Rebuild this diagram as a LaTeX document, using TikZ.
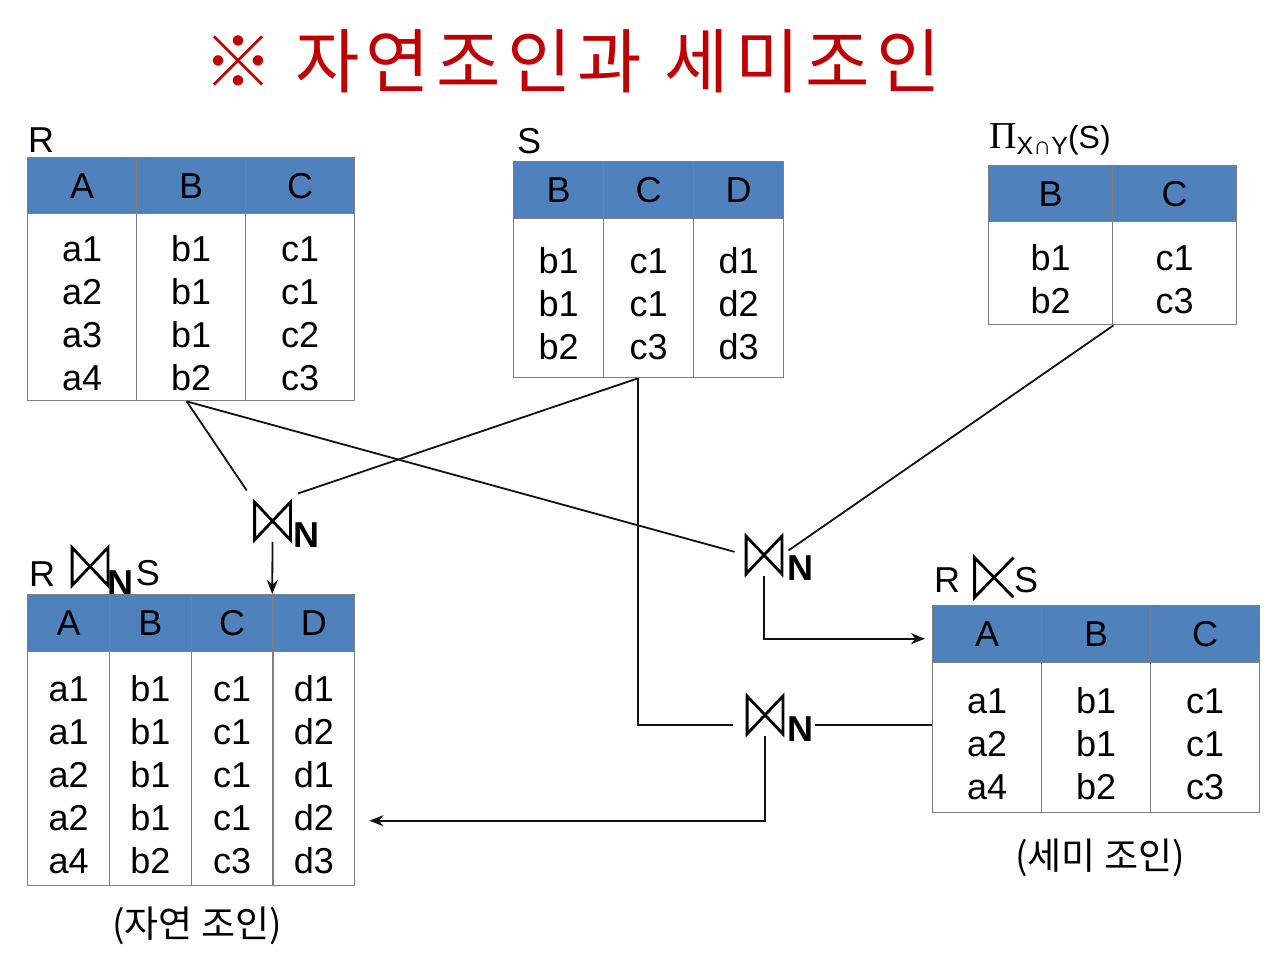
\documentclass[tikz,border=0pt]{standalone}
\usepackage{fontspec}
\setmainfont{Liberation Sans}
\newfontfamily\krfont{Noto Sans CJK KR}
\newfontfamily\krtitlefont[LetterSpace=9]{Noto Sans CJK KR}
\newfontfamily\pifont{Liberation Serif}
\usetikzlibrary{arrows.meta,positioning}
\definecolor{hdblue}{HTML}{4F81BD}
\definecolor{tblline}{HTML}{7F7F7F}
\definecolor{titlered}{HTML}{C00000}
\definecolor{ink}{HTML}{111111}

\newcommand\drawtie[1]{\draw[tie] (#1.north west) -- (#1.south east) -- (#1.north east) -- (#1.south west) -- cycle;}
\newcommand\drawsemi[1]{\draw[tie] (#1.north east) -- (#1.south west) -- (#1.north west) -- (#1.south east);}
\newcommand\cellstrut{\rule{0pt}{18.5pt}}

\begin{document}
\begin{tikzpicture}[
  x=0.5pt,
  y=-0.5pt,
  cell/.style={
    draw=tblline,line width=0.7pt,anchor=north west,inner sep=0pt,
    font=\fontsize{18}{21.5}\selectfont,text=black
  },
  head/.style={cell,fill=hdblue},
  body/.style={cell,fill=white,align=center},
  lbl/.style={inner sep=0pt,font=\fontsize{18}{20}\selectfont},
  nlabel/.style={inner sep=1pt,font=\fontsize{18}{20}\selectfont\bfseries},
  tiebox/.style={minimum width=17.5pt,minimum height=18.5pt,inner sep=0pt},
  tie/.style={draw=black,line width=1.4pt,line join=miter},
  link/.style={draw=ink,line width=0.9pt},
  arrow/.style={link,-{Stealth[length=7pt,width=5.5pt]}},
  caption/.style={font=\krfont\fontsize{18.5}{20}\selectfont},
  title/.style={font=\krtitlefont\fontsize{35}{36}\selectfont,text=titlered}
]
  \useasboundingbox[fill=white] (0,0) rectangle (1280,965);

  \node[title] (title) at (572,61) {※ 자연조인과 세미조인};

  % R
  \begin{scope}[head/.append style={minimum width=54.5pt,minimum height=28pt},
                body/.append style={minimum width=54.5pt,minimum height=93.5pt}]
    \node[lbl] (r-name) at (41,140) {R};
    \node[head] (r-ha) at (27,157) {A};
    \node[head] (r-hb) at (136,157) {B};
    \node[head] (r-hc) at (245,157) {C};
    \node[body] (r-a) at (27,213) {\cellstrut a1\\a2\\a3\\a4};
    \node[body] (r-b) at (136,213) {\cellstrut b1\\b1\\b1\\b2};
    \node[body] (r-c) at (245,213) {\cellstrut c1\\c1\\c2\\c3};
  \end{scope}

  % S
  \begin{scope}[head/.append style={minimum width=45pt,minimum height=28.5pt},
                body/.append style={minimum width=45pt,minimum height=79.5pt}]
    \node[lbl] (s-name) at (529,141) {S};
    \node[head] (s-hb) at (513,161) {B};
    \node[head] (s-hc) at (603,161) {C};
    \node[head] (s-hd) at (693,161) {D};
    \node[body] (s-b) at (513,218) {\cellstrut b1\\b1\\b2};
    \node[body] (s-c) at (603,218) {\cellstrut c1\\c1\\c3};
    \node[body] (s-d) at (693,218) {\cellstrut d1\\d2\\d3};
  \end{scope}

  % projection of S
  \begin{scope}[head/.append style={minimum width=62pt,minimum height=28pt},
                body/.append style={minimum width=62pt,minimum height=51.5pt}]
    \node[lbl] (pi-name) at (1050,139)
      {{\pifont\fontsize{19}{20}\selectfont Π}\raisebox{-3pt}{\fontsize{12.5}{13}\selectfont X∩Y}{\fontsize{16}{17}\selectfont(S)}};
    \node[head] (pi-hb) at (988,165) {B};
    \node[head] (pi-hc) at (1112,165) {C};
    \node[body] (pi-b) at (988,221) {\cellstrut b1\\b2};
    \node[body] (pi-c) at (1112,221) {\cellstrut c1\\c3};
  \end{scope}

  % natural join result
  \begin{scope}[head/.append style={minimum width=40.875pt,minimum height=28.5pt},
                body/.append style={minimum width=40.875pt,minimum height=117pt}]
    \node[lbl] (rs-r) at (42,574) {R};
    \node[tiebox] (rs-tie) at (90,566.5) {};
    \node[nlabel] (rs-n) at (120,583.5) {N};
    \node[lbl] (rs-s) at (148,573) {S};
    \node[head] (rs-ha) at (27,594) {A};
    \node[head] (rs-hb) at (108.75,594) {B};
    \node[head] (rs-hc) at (190.5,594) {C};
    \node[head] (rs-hd) at (272.25,594) {D};
    \node[body] (rs-a) at (27,651) {\cellstrut a1\\a1\\a2\\a2\\a4};
    \node[body] (rs-b) at (108.75,651) {\cellstrut b1\\b1\\b1\\b1\\b2};
    \node[body] (rs-c) at (190.5,651) {\cellstrut c1\\c1\\c1\\c1\\c3};
    \node[body] (rs-d) at (272.25,651) {\cellstrut d1\\d2\\d1\\d2\\d3};
    \node[caption] (rs-cap) at (197,926) {(자연 조인)};
  \end{scope}
  \drawtie{rs-tie}

  % semi join result
  \begin{scope}[head/.append style={minimum width=54.5pt,minimum height=28.5pt},
                body/.append style={minimum width=54.5pt,minimum height=75pt}]
    \node[lbl] (semi-r) at (947,580) {R};
    \node[tiebox,minimum width=19pt,minimum height=19.5pt] (semi-tie) at (994,577.5) {};
    \node[lbl] (semi-s) at (1026,580) {S};
    \node[head] (semi-ha) at (932,605) {A};
    \node[head] (semi-hb) at (1041,605) {B};
    \node[head] (semi-hc) at (1150,605) {C};
    \node[body] (semi-a) at (932,662) {\cellstrut a1\\a2\\a4};
    \node[body] (semi-b) at (1041,662) {\cellstrut b1\\b1\\b2};
    \node[body] (semi-c) at (1150,662) {\cellstrut c1\\c1\\c3};
    \node[caption] (semi-cap) at (1100,858) {(세미 조인)};
  \end{scope}
  \drawsemi{semi-tie}

  % join operators
  \node[tiebox] (j1) at (272.5,521) {};
  \node[nlabel] (j1n) at (306,535.5) {N};
  \node[tiebox] (j2) at (764,555) {};
  \node[nlabel] (j2n) at (800,568.5) {N};
  \node[tiebox] (j3) at (765,715) {};
  \node[nlabel] (j3n) at (800,729.5) {N};
  \drawtie{j1}
  \drawtie{j2}
  \drawtie{j3}

  % connectors
  \coordinate (r-out) at ([xshift=-2.25pt]r-b.south);
  \coordinate (s-out) at ([xshift=-5.5pt]s-c.south);
  \coordinate (j3-row) at ([yshift=-5pt]j3.center);
  \coordinate (semi-in) at ([yshift=-2.25pt]semi-ha.west);
  \coordinate (rs-in) at ([xshift=7pt,yshift=-26pt]rs-d.east);
  \draw[link,shorten >=7pt] (r-out) -- (j1.north west);
  \draw[link,shorten >=13.5pt] (s-out) -- (j1.north);
  \draw[arrow,shorten <=1pt] (j1.south) -- (rs-hd.north west);
  \draw[link,shorten >=6pt] (r-out) -- (j2.west);
  \draw[link,shorten >=4pt] (pi-b.south east) -- (j2.east);
  \draw[arrow,shorten <=1pt,shorten >=3.5pt] (j2.south) |- (semi-in);
  \draw[link,shorten >=7pt] (s-out) |- (j3-row -| j3.west);
  \draw[link] (j3-row -| semi-a.west) -- (j3-row -| j3n.east);
  \draw[arrow,shorten <=1pt] (j3.south) |- (rs-in);
\end{tikzpicture}
\end{document}
